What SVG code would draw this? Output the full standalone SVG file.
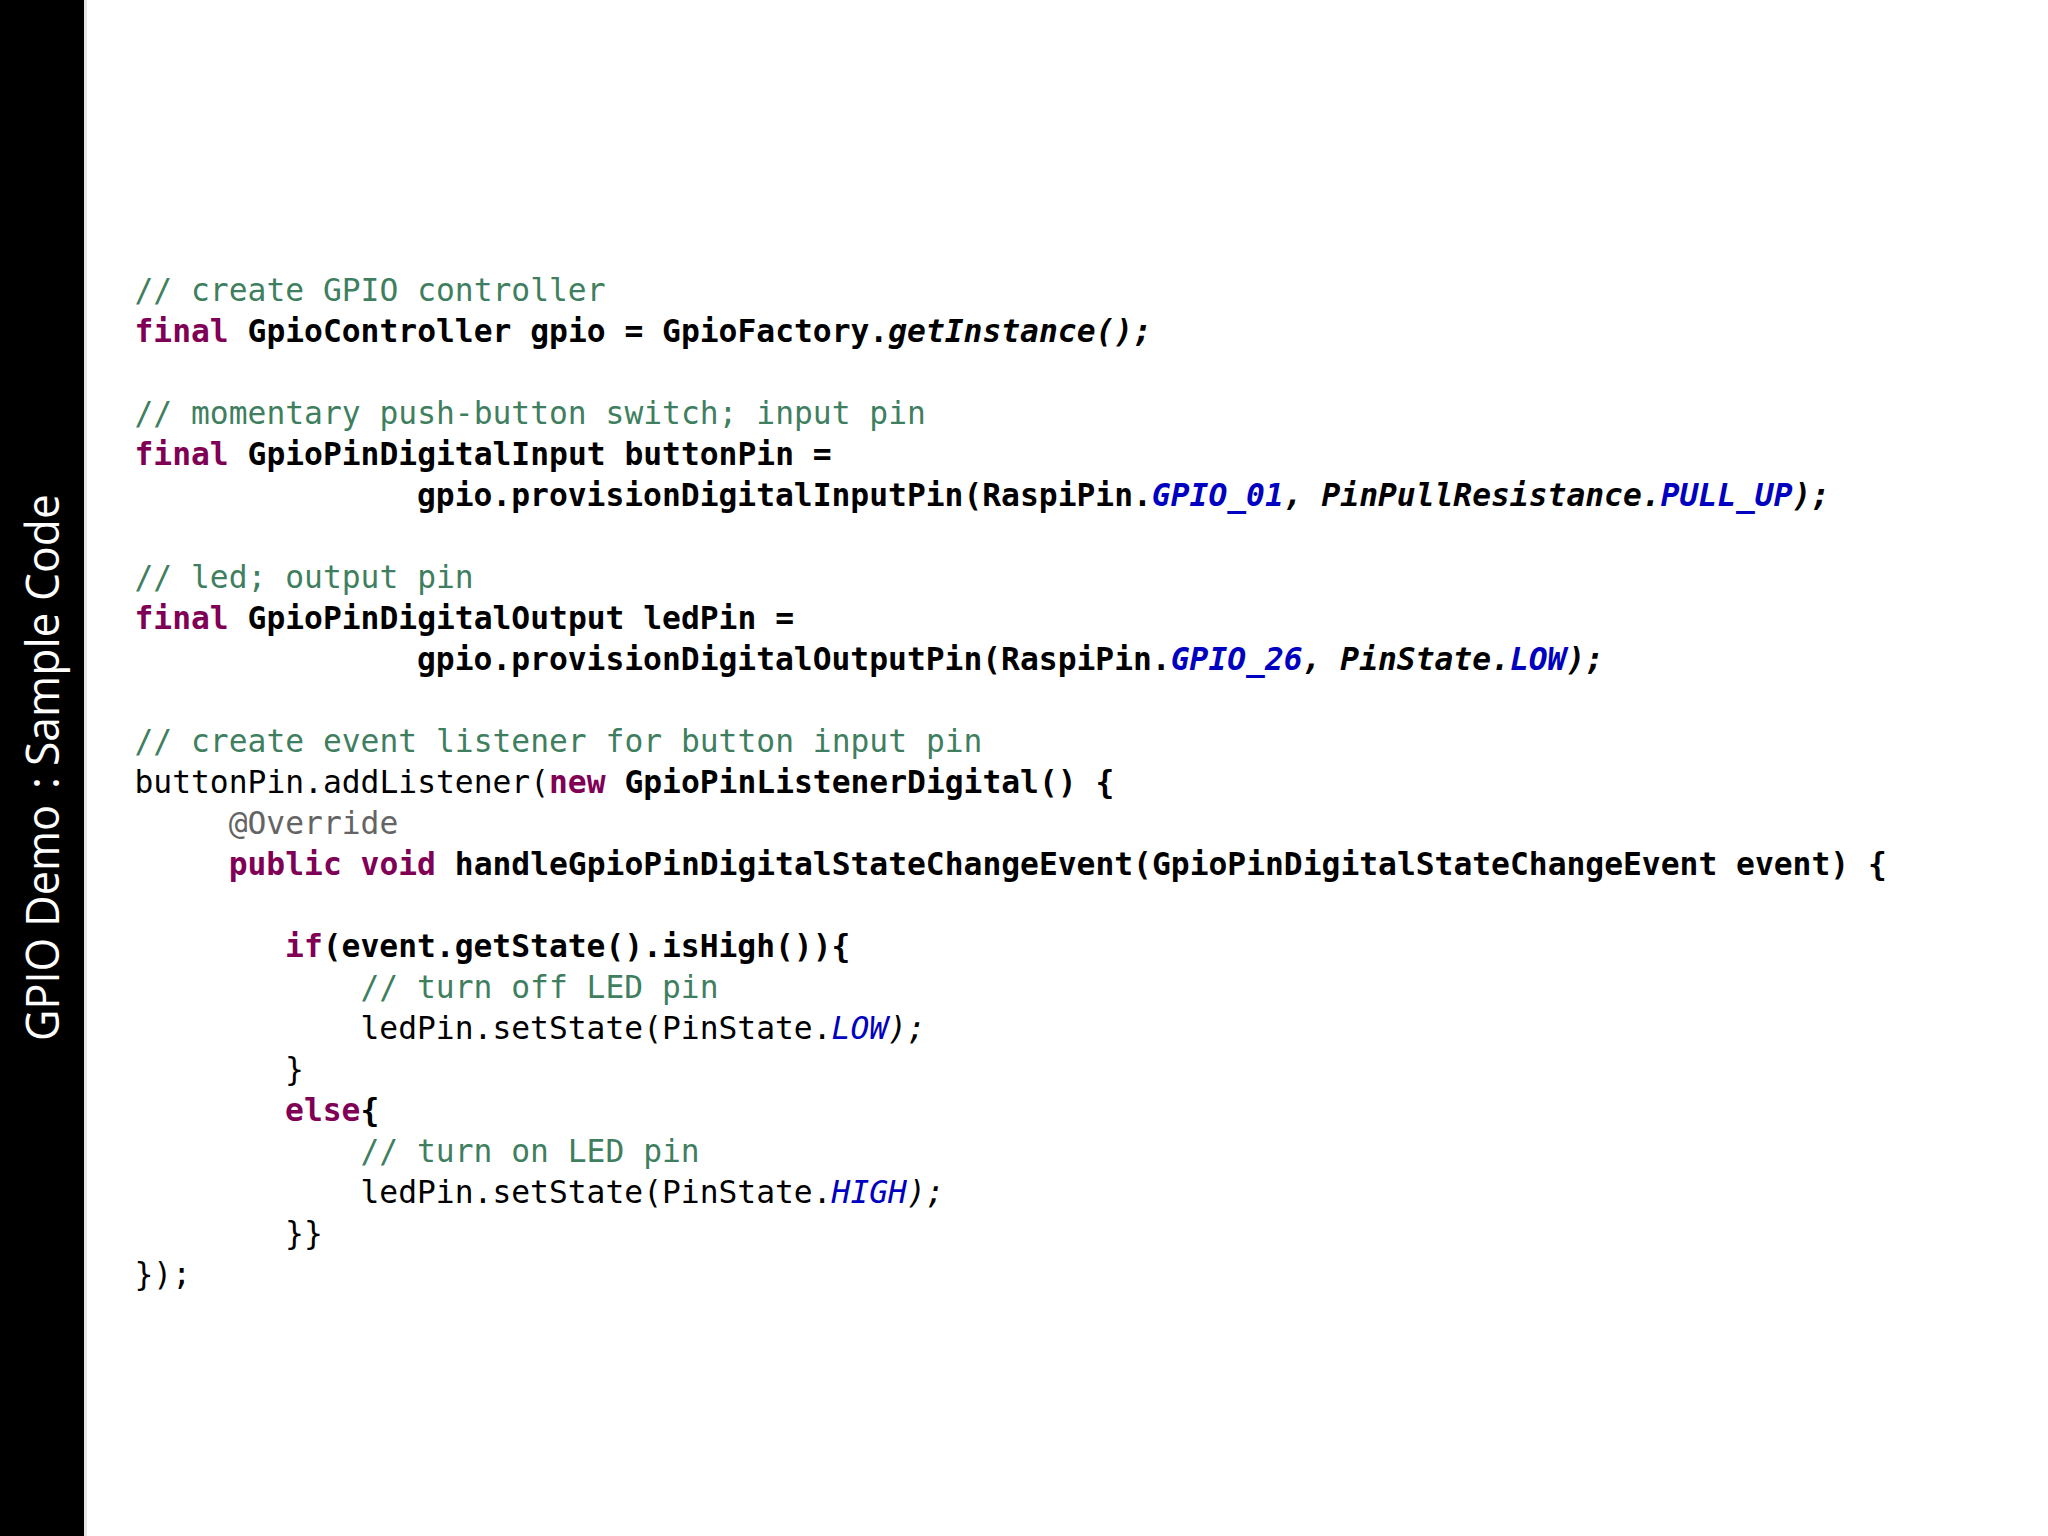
<svg xmlns="http://www.w3.org/2000/svg" width="2048" height="1536" viewBox="0 0 2048 1536">
<style>
.code{font-family:"DejaVu Sans Mono","Liberation Mono",monospace;font-size:31.3px;fill:#000;white-space:pre}
.c{fill:#3F7F5F}
.k{fill:#7F0055;font-weight:bold}
.b{font-weight:bold}
.i{font-style:italic}
.f{fill:#0000C0;font-style:italic}
.a{fill:#646464}
.title{font-family:"Open Sans","DejaVu Sans",sans-serif;font-size:46px;fill:#fff}
</style>
<rect x="0" y="0" width="2048" height="1536" fill="#fff"/>
<g id="sidebar">
<rect x="0" y="0" width="84" height="1536" fill="#000"/>
<rect x="84" y="0" width="3" height="1536" fill="#e4e4e4"/>
<g transform="translate(59,1041) rotate(-90)">
<text class="title" x="0" y="0" textLength="236" lengthAdjust="spacingAndGlyphs">GPIO Demo</text>
<text class="title" x="258" y="0" text-anchor="middle">:</text>
<text class="title" x="275" y="0" textLength="272" lengthAdjust="spacingAndGlyphs">Sample Code</text>
</g>
</g>
<g id="code" class="code">
<text x="134.5" y="301" class="c">// create GPIO controller</text>
<text x="134.5" y="342" xml:space="preserve"><tspan class="k">final</tspan><tspan class="b"> GpioController gpio = GpioFactory.</tspan><tspan class="b i">getInstance();</tspan></text>
<text x="134.5" y="424" class="c">// momentary push-button switch; input pin</text>
<text x="134.5" y="465" xml:space="preserve"><tspan class="k">final</tspan><tspan class="b"> GpioPinDigitalInput buttonPin =</tspan></text>
<text x="417" y="506" xml:space="preserve"><tspan class="b">gpio.provisionDigitalInputPin(RaspiPin.</tspan><tspan class="b f">GPIO_01</tspan><tspan class="b i">, PinPullResistance.</tspan><tspan class="b f">PULL_UP</tspan><tspan class="b i">);</tspan></text>
<text x="134.5" y="588" class="c">// led; output pin</text>
<text x="134.5" y="629" xml:space="preserve"><tspan class="k">final</tspan><tspan class="b"> GpioPinDigitalOutput ledPin =</tspan></text>
<text x="417" y="670" xml:space="preserve"><tspan class="b">gpio.provisionDigitalOutputPin(RaspiPin.</tspan><tspan class="b f">GPIO_26</tspan><tspan class="b i">, PinState.</tspan><tspan class="b f">LOW</tspan><tspan class="b i">);</tspan></text>
<text x="134.5" y="752" class="c">// create event listener for button input pin</text>
<text x="134.5" y="793" xml:space="preserve"><tspan>buttonPin.addListener(</tspan><tspan class="k">new</tspan><tspan class="b"> GpioPinListenerDigital() {</tspan></text>
<text x="228.7" y="834" class="a">@Override</text>
<text x="228.7" y="875" xml:space="preserve"><tspan class="k">public void</tspan><tspan class="b"> handleGpioPinDigitalStateChangeEvent(GpioPinDigitalStateChangeEvent event) {</tspan></text>
<text x="285.1" y="957" xml:space="preserve"><tspan class="k">if</tspan><tspan class="b">(event.getState().isHigh()){</tspan></text>
<text x="360.5" y="998" class="c">// turn off LED pin</text>
<text x="360.5" y="1039" xml:space="preserve"><tspan>ledPin.setState(PinState.</tspan><tspan class="f">LOW</tspan><tspan class="i">);</tspan></text>
<text x="285.1" y="1080">}</text>
<text x="285.1" y="1121" xml:space="preserve"><tspan class="k">else</tspan><tspan class="b">{</tspan></text>
<text x="360.5" y="1162" class="c">// turn on LED pin</text>
<text x="360.5" y="1203" xml:space="preserve"><tspan>ledPin.setState(PinState.</tspan><tspan class="f">HIGH</tspan><tspan class="i">);</tspan></text>
<text x="285.1" y="1244">}}</text>
<text x="134.5" y="1285">});</text>
</g>
</svg>
